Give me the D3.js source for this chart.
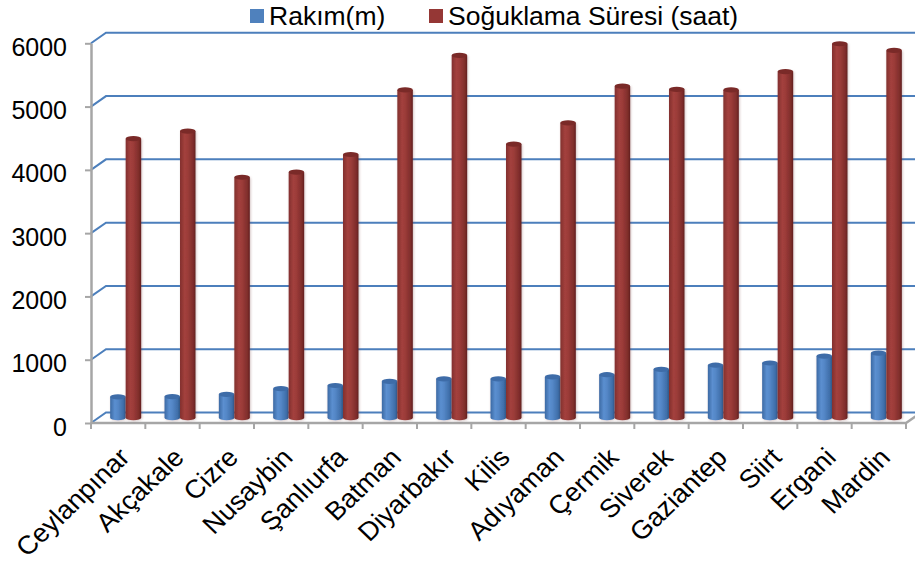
<!DOCTYPE html>
<html>
<head>
<meta charset="utf-8">
<script src="https://cdn.jsdelivr.net/npm/d3@7"></script>
<style>
  html, body { margin: 0; padding: 0; background: #ffffff; }
  svg { display: block; }
  text { font-family: "Liberation Sans", Arial, sans-serif; fill: #000; }
</style>
</head>
<body>
<svg id="chart" width="915" height="563"></svg>
<script>
// Station names along the category axis
const categories = ["Ceylanpınar", "Akçakale", "Cizre", "Nusaybin", "Şanlıurfa", "Batman",
  "Diyarbakır", "Kilis", "Adıyaman", "Çermik", "Siverek", "Gaziantep", "Siirt", "Ergani", "Mardin"];
// Altitude in metres
const rakim = [330, 335, 370, 460, 510, 575, 615, 615, 645, 680, 765, 830, 865, 975, 1020];
// Chilling duration in hours
const soguklama = [4410, 4530, 3800, 3880, 4160, 5180, 5725, 4325, 4660, 5240, 5190, 5180, 5470, 5910, 5805];
// Value axis ticks
const yTicks = [0, 1000, 2000, 3000, 4000, 5000, 6000];
const seriesNames = ["Rakım(m)", "Soğuklama Süresi (saat)"];

const svg = d3.select("#chart");
const W = 915, H = 563;

// front plane of the plot box
const x = d3.scaleBand().domain(categories).range([91, 906]).paddingInner(0).paddingOuter(0);
const y = d3.scaleLinear().domain([0, 6000]).range([423, 43.3]);
// depth offset of the back wall
const DX = 15, DY = -10.5;

const defs = svg.append("defs");
function cylGrad(id, stops) {
  const g = defs.append("linearGradient").attr("id", id).attr("x1", "0").attr("x2", "1").attr("y1", "0").attr("y2", "0");
  stops.forEach(s => g.append("stop").attr("offset", s[0]).attr("stop-color", s[1]));
}
cylGrad("gBlue", [[0, "#3b69a3"], [0.3, "#5b8fd0"], [0.5, "#5487c7"], [0.85, "#3f6ea9"], [1, "#2f5688"]]);
cylGrad("gRed", [[0, "#82302e"], [0.3, "#a3403d"], [0.5, "#9c3c39"], [0.85, "#7f2d2b"], [1, "#62201f"]]);
const shadow = defs.append("filter").attr("id", "soft").attr("x", "-30%").attr("y", "-5%").attr("width", "160%").attr("height", "110%");
shadow.append("feDropShadow").attr("dx", 0.8).attr("dy", 0.5).attr("stdDeviation", 1.1)
  .attr("flood-color", "#7a4040").attr("flood-opacity", 0.35);

// back-wall gridlines with their diagonal run along the left wall
const gridColor = "#4c7fbc";
svg.append("g").selectAll("path").data(yTicks).join("path")
  .attr("d", t => `M${x.range()[0]},${y(t)} L${x.range()[0] + DX},${y(t) + DY} L${W + 5},${y(t) + DY}`)
  .attr("fill", "none").attr("stroke", gridColor).attr("stroke-width", 2);

// floor front edge and right-side diagonal
const axisGray = "#a6a6a6";
const x0 = x.range()[0], x1 = x.range()[1];
svg.append("path")
  .attr("d", `M${x0},${y(0)} L${x1},${y(0)} L${x1 + DX},${y(0) + DY}`)
  .attr("fill", "none").attr("stroke", axisGray).attr("stroke-width", 2.5);

// category boundary ticks
const bounds = categories.map(c => x(c)).concat([x1]);
svg.append("g").selectAll("line").data(bounds).join("line")
  .attr("x1", d => d).attr("x2", d => d).attr("y1", y(0)).attr("y2", y(0) + 6)
  .attr("stroke", axisGray).attr("stroke-width", 2);

// value axis
const yAxis = svg.append("g").attr("transform", `translate(${x0},0)`)
  .call(d3.axisLeft(y).tickValues(yTicks).tickSize(6).tickSizeOuter(0).tickPadding(18).tickFormat(d3.format("d")));
yAxis.select(".domain").attr("stroke", axisGray).attr("stroke-width", 2.5);
yAxis.selectAll(".tick line").attr("stroke", axisGray).attr("stroke-width", 2);
yAxis.selectAll(".tick text").attr("font-size", 25).attr("dy", "0.48em")
  .attr("font-family", "'Liberation Sans', Arial, sans-serif").attr("fill", "#000");

// cylinders, placed halfway into the depth of the plot
const barW = 15.5, ry = 2.6;
const bars = svg.append("g").attr("transform", `translate(${DX / 2},${DY / 2})`);
function cylinder(g, left, val, fill, topFill) {
  const yb = y(0), yt = y(val), rx = barW / 2;
  g.append("path")
    .attr("d", `M${left},${yt} L${left},${yb} A${rx},${ry} 0 0 0 ${left + barW},${yb} L${left + barW},${yt} Z`)
    .attr("fill", fill).attr("filter", "url(#soft)");
  g.append("ellipse").attr("cx", left + rx).attr("cy", yt).attr("rx", rx).attr("ry", ry).attr("fill", topFill);
}
categories.forEach((c, i) => {
  const mid = x(c) + x.bandwidth() / 2;
  cylinder(bars, mid - barW, rakim[i], "url(#gBlue)", "#3e6ca8");
  cylinder(bars, mid, soguklama[i], "url(#gRed)", "#7a2a28");
});

// rotated category labels
svg.append("g").selectAll("text").data(categories).join("text")
  .attr("transform", c => `translate(${x(c) + x.bandwidth() / 2 + 13},${459}) scale(1.05,1) rotate(-45)`)
  .attr("text-anchor", "end").attr("font-size", 26).text(c => c);

// legend
const legend = svg.append("g");
const colors = ["#4f81bd", "#953735"];
const legendX = [250, 429];
seriesNames.forEach((name, i) => {
  legend.append("rect").attr("x", legendX[i]).attr("y", 9).attr("width", 14).attr("height", 14).attr("fill", colors[i]);
  legend.append("text").attr("x", legendX[i] + 19).attr("y", 25).attr("font-size", 26.5).text(name);
});
</script>
</body>
</html>
